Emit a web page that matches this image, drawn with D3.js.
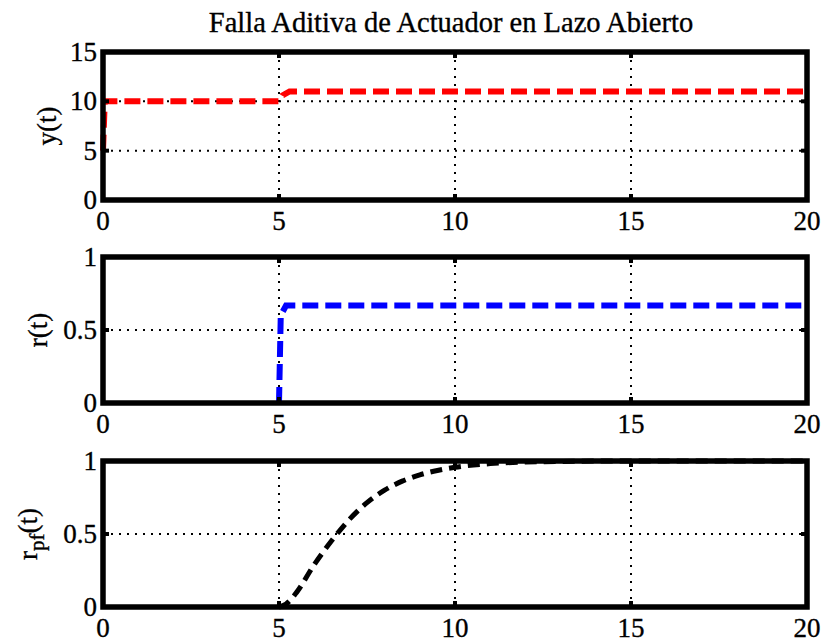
<!DOCTYPE html>
<html>
<head>
<meta charset="utf-8">
<script src="https://cdn.jsdelivr.net/npm/d3@7"></script>
<style>
  html, body { margin: 0; padding: 0; background: #fff; }
  svg { display: block; }
  text { font-family: "Liberation Serif", "Times New Roman", serif; fill: #000; stroke: #000; stroke-width: 0.35px; }
</style>
</head>
<body>
<svg id="chart" width="825" height="643"></svg>
<script>
// Time axis shared by all three panels
const xDomain = [0, 20];
const xTicks = [0, 5, 10, 15, 20];

// Panel 1: plant output y(t)
const yTime = [0, 0.05, 5, 5.1, 5.3, 20];
const yValues = [5, 10, 10, 10.6, 11, 11];
const yTicks = [0, 5, 10, 15];

// Panel 2: residual r(t)
const rTime = [5, 5.05, 5.2, 20];
const rValues = [0, 0.6, 0.667, 0.667];
const rTicks = [0, 0.5, 1];

// Panel 3: filtered residual r_pf(t)
const rpfTime = [5, 5.2, 5.5, 6, 6.5, 7, 7.5, 8, 8.5, 9, 9.5, 10, 11, 12, 13, 15, 20];
const rpfValues = [0, 0.02, 0.1, 0.29, 0.455, 0.6, 0.715, 0.8, 0.862, 0.905, 0.935, 0.957, 0.982, 0.993, 0.997, 1.0, 1.0];
const rpfTicks = [0, 0.5, 1];

const titleText = "Falla Aditiva de Actuador en Lazo Abierto";

const svg = d3.select("#chart");
const left = 103, right = 807;
const x = d3.scaleLinear().domain(xDomain).range([left, right]);
const fontSize = 27;

const panels = [
  { top: 52, bottom: 200, domain: [0, 15], ticks: yTicks,
    t: yTime, v: yValues, color: "#ff0000", width: 6, dash: "16,7", curve: d3.curveLinear,
    label: "y(t)", labelX: 56 },
  { top: 257, bottom: 403, domain: [0, 1], ticks: rTicks,
    t: rTime, v: rValues, color: "#0000ff", width: 6, dash: "16,7", curve: d3.curveLinear,
    label: "r(t)", labelX: 47 },
  { top: 461, bottom: 607, domain: [0, 1], ticks: rpfTicks,
    t: rpfTime, v: rpfValues, color: "#000000", width: 5, dash: "12,7", curve: d3.curveMonotoneX,
    label: "rpf", labelX: 37 }
];

svg.append("text")
  .attr("x", 451).attr("y", 32)
  .attr("text-anchor", "middle")
  .attr("font-size", 28.5)
  .text(titleText);

panels.forEach(p => {
  const y = d3.scaleLinear().domain(p.domain).range([p.bottom, p.top]);
  const g = svg.append("g");

  // dotted grid at interior ticks
  xTicks.filter(d => d > xDomain[0] && d < xDomain[1]).forEach(d => {
    g.append("line")
      .attr("x1", x(d)).attr("x2", x(d)).attr("y1", p.top).attr("y2", p.bottom)
      .attr("stroke", "#000").attr("stroke-width", 2).attr("stroke-dasharray", "2,6");
  });
  p.ticks.filter(d => d > p.domain[0] && d < p.domain[1]).forEach(d => {
    g.append("line")
      .attr("x1", left).attr("x2", right).attr("y1", y(d)).attr("y2", y(d))
      .attr("stroke", "#000").attr("stroke-width", 2).attr("stroke-dasharray", "2,6");
  });

  // data trace
  const pts = p.t.map((t, i) => [t, p.v[i]]);
  g.append("path")
    .datum(pts)
    .attr("d", d3.line().x(d => x(d[0])).y(d => y(d[1])).curve(p.curve))
    .attr("fill", "none")
    .attr("stroke", p.color)
    .attr("stroke-width", p.width)
    .attr("stroke-dasharray", p.dash);

  // inward tick marks on all four sides
  xTicks.forEach(d => {
    g.append("line").attr("x1", x(d)).attr("x2", x(d)).attr("y1", p.bottom).attr("y2", p.bottom - 6)
      .attr("stroke", "#000").attr("stroke-width", 4);
    g.append("line").attr("x1", x(d)).attr("x2", x(d)).attr("y1", p.top).attr("y2", p.top + 6)
      .attr("stroke", "#000").attr("stroke-width", 4);
  });
  p.ticks.forEach(d => {
    g.append("line").attr("x1", left).attr("x2", left + 6).attr("y1", y(d)).attr("y2", y(d))
      .attr("stroke", "#000").attr("stroke-width", 4);
    g.append("line").attr("x1", right).attr("x2", right - 6).attr("y1", y(d)).attr("y2", y(d))
      .attr("stroke", "#000").attr("stroke-width", 4);
  });

  // axes box
  g.append("rect")
    .attr("x", left).attr("y", p.top)
    .attr("width", right - left).attr("height", p.bottom - p.top)
    .attr("fill", "none").attr("stroke", "#000").attr("stroke-width", 5.5);

  // tick labels
  xTicks.forEach(d => {
    g.append("text")
      .attr("x", x(d)).attr("y", p.bottom + 30)
      .attr("text-anchor", "middle").attr("font-size", fontSize)
      .text(d);
  });
  p.ticks.forEach(d => {
    g.append("text")
      .attr("x", 97).attr("y", y(d) + 9)
      .attr("text-anchor", "end").attr("font-size", fontSize)
      .text(d);
  });

  // y-axis label
  const cy = (p.top + p.bottom) / 2;
  const lab = g.append("text")
    .attr("transform", `translate(${p.labelX},${cy}) rotate(-90)`)
    .attr("text-anchor", "middle").attr("font-size", fontSize);
  if (p.label === "rpf") {
    lab.append("tspan").text("r");
    lab.append("tspan").attr("font-size", 21).attr("dy", 7).text("pf");
    lab.append("tspan").attr("dy", -7).text("(t)");
  } else {
    lab.text(p.label);
  }
});
</script>
</body>
</html>
